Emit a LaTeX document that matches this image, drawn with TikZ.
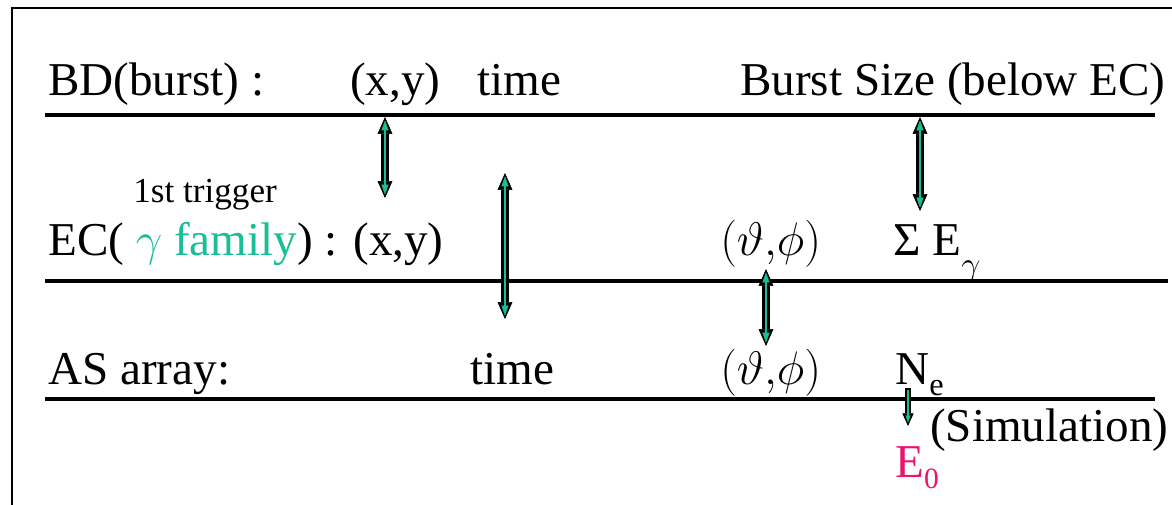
\RequirePackage{fix-cm}
\documentclass[tikz,border=0pt]{standalone}
\usepackage{fontspec}
\setmainfont{Liberation Serif}
\usetikzlibrary{arrows.meta}
\definecolor{tealg}{RGB}{26,190,150}
\definecolor{magE}{RGB}{235,20,110}
\begin{document}
\begin{tikzpicture}[x=0.025cm,y=-0.025cm,
 lbl/.style={anchor=base west, inner sep=0pt, font=\fontsize{33.5}{40}\selectfont},
 smalllbl/.style={anchor=base west, inner sep=0pt, font=\fontsize{25}{29}\selectfont},
 rule/.style={line width=2.2pt, black},
 frame/.style={line width=2pt, black},
 arrout/.style={line width=5pt, black, {Triangle[length=12pt,width=10.5pt,line width=0.4pt]}-{Triangle[length=12pt,width=10.5pt,line width=0.4pt]}},
 arrin/.style={line width=1.8pt, tealg, {Triangle[length=7pt,width=5pt,line width=0.2pt]}-{Triangle[length=7pt,width=5pt,line width=0.2pt]}, shorten <=2.5pt, shorten >=2.5pt},
 arrouts/.style={line width=3.8pt, black, -{Triangle[length=9pt,width=8pt,line width=0.4pt]}},
 arrins/.style={line width=1.2pt, tealg, -{Triangle[length=5pt,width=3.5pt,line width=0.2pt]}, shorten >=2.5pt, shorten <=1.5pt},
]
\useasboundingbox (0,0) rectangle (1172,505);
% frame
\coordinate (fbl) at (12,505);
\coordinate (ftl) at (12,8);
\coordinate (ftr) at (1172,8);
\draw[frame] (fbl) -- (ftl) -- (ftr);
% rules
\coordinate (r1a) at (45,115); \coordinate (r1b) at (1155,115);
\coordinate (r2a) at (45,281); \coordinate (r2b) at (1168,281);
\coordinate (r3a) at (45,399); \coordinate (r3b) at (1155,399);
\draw[rule] (r1a) -- (r1b);
\draw[rule] (r2a) -- (r2b);
\draw[rule] (r3a) -- (r3b);
% row 1
\node[lbl] (bd) at (48,96) {BD(burst) :};
\node[lbl] (xy1) at (350,96) {(x,y)};
\node[lbl] (t1) at (477,96) {time};
\node[lbl] (bs) at (740,96) {Burst Size (below EC)};
% row 2
\node[smalllbl] (trig) at (133,203) {1st trigger};
\node[lbl] (ec) at (48,256) {EC( \textcolor{tealg}{$\gamma$ family}) : (x,y)};
\node[lbl] (tp2) at (720,256) {$(\vartheta{,}\phi)$};
\node[lbl] (sig) at (893,256) {Σ E\raisebox{-0.42em}{\fontsize{24}{24}\selectfont$\gamma$}};
% row 3
\node[lbl] (as) at (48,384) {AS array:};
\node[lbl] (t3) at (470,384) {time};
\node[lbl] (tp3) at (720,384) {$(\vartheta{,}\phi)$};
\node[lbl] (ne) at (895,384) {N\raisebox{-0.25em}{\fontsize{23}{23}\selectfont e}};
\node[lbl] (sim) at (930,441) {(Simulation)};
\node[lbl, text=magE] (e0) at (895,477) {E\raisebox{-0.25em}{\fontsize{21}{21}\selectfont 0}};
% arrows
\coordinate (a1t) at (385,117); \coordinate (a1b) at (385,198);
\coordinate (a2t) at (505,173); \coordinate (a2b) at (505,319);
\coordinate (a3t) at (920,117); \coordinate (a3b) at (920,211);
\coordinate (a4t) at (766,269); \coordinate (a4b) at (766,346);
\coordinate (a5t) at (908,388); \coordinate (a5b) at (908,426);
\foreach \p in {1,2,3,4}{
 \draw[arrout] (a\p t) -- (a\p b);
 \draw[arrin] (a\p t) -- (a\p b);
}
\draw[arrouts] (a5t) -- (a5b);
\draw[arrins] (a5t) -- (a5b);
\end{tikzpicture}
\end{document}
